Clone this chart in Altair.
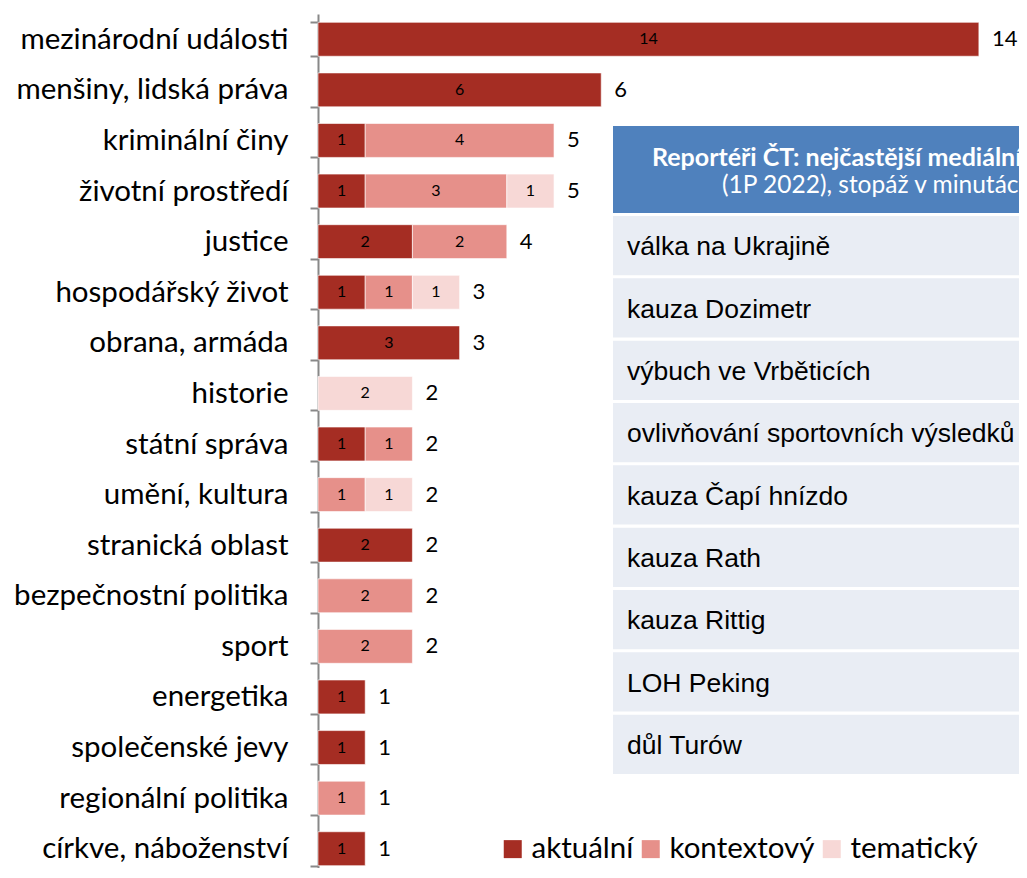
import altair as alt
import pandas as pd

categories = [
    "mezinárodní události", "menšiny, lidská práva", "kriminální činy",
    "životní prostředí", "justice", "hospodářský život", "obrana, armáda",
    "historie", "státní správa", "umění, kultura", "stranická oblast",
    "bezpečnostní politika", "sport", "energetika", "společenské jevy",
    "regionální politika", "církve, náboženství",
]
aktualni   = [14, 6, 1, 1, 2, 1, 3, 0, 1, 0, 2, 0, 0, 1, 1, 0, 1]
kontextovy = [0, 0, 4, 3, 2, 1, 0, 0, 1, 1, 0, 2, 2, 0, 0, 1, 0]
tematicky  = [0, 0, 0, 1, 0, 1, 0, 2, 0, 1, 0, 0, 0, 0, 0, 0, 0]
series = ["aktuální", "kontextový", "tematický"]
colors = ["#A52D23", "#E6908A", "#F7D8D6"]

table_title = "Reportéři ČT: nejčastější mediální kauzy"
table_subtitle = "(1P 2022), stopáž v minutách"
table_rows = [
    "válka na Ukrajině", "kauza Dozimetr", "výbuch ve Vrběticích",
    "ovlivňování sportovních výsledků", "kauza Čapí hnízdo", "kauza Rath",
    "kauza Rittig", "LOH Peking", "důl Turów",
]

rows = []
for i, c in enumerate(categories):
    for k, vals in enumerate([aktualni, kontextovy, tematicky]):
        if vals[i] > 0:
            rows.append({"cat": c, "typ": series[k], "ord": k, "value": vals[i]})
df = pd.DataFrame(rows)
tot = pd.DataFrame({"cat": categories,
                    "total": [a + b + t for a, b, t in zip(aktualni, kontextovy, tematicky)]})
tab = pd.DataFrame({"name": table_rows, "idx": list(range(len(table_rows)))})

FONT = "Lato"
xscale = alt.Scale(domain=[0, 14.85], nice=False, zero=True)
yscale = alt.Scale(domain=categories, range=[0, 860], paddingInner=0.33, paddingOuter=0.165)

base = alt.Chart(df).transform_stack(
    stack="value", groupby=["cat"], as_=["x0", "x1"],
    sort=[alt.SortField("ord", order="ascending")]
).transform_calculate(mid="(datum.x0 + datum.x1) / 2")

bars = base.mark_bar(stroke="white", strokeWidth=1, strokeOpacity=0.6).encode(
    y=alt.Y("cat:N", scale=yscale, sort=categories, title=None,
            axis=alt.Axis(labelFont=FONT, labelFontSize=29.5, labelColor="black",
                          labelPadding=22, tickSize=8, tickColor="#888888",
                          domainColor="#888888", domainWidth=2, tickWidth=2,
                          tickBand="extent", labelLimit=400)),
    x=alt.X("x0:Q", scale=xscale, axis=None),
    x2="x1:Q",
    color=alt.Color("typ:N", scale=alt.Scale(domain=series, range=colors),
                    legend=alt.Legend(title=None, orient="none", legendX=180, legendY=820,
                                      direction="horizontal", symbolType="square",
                                      symbolSize=324, symbolStrokeWidth=0,
                                      labelFont=FONT, labelFontSize=29.5, labelColor="black",
                                      labelOffset=4, columnPadding=2)),
)

seg_labels = base.mark_text(font=FONT, fontSize=16, color="black").encode(
    y=alt.Y("cat:N", scale=yscale, sort=categories),
    x=alt.X("mid:Q", scale=xscale),
    text="value:Q",
)

tot_labels = alt.Chart(tot).mark_text(font=FONT, fontSize=22, color="black",
                                      align="left", dx=13).encode(
    y=alt.Y("cat:N", scale=yscale, sort=categories),
    x=alt.X("total:Q", scale=xscale),
    text="total:Q",
)

header = alt.Chart(pd.DataFrame({"t": [table_title]})).mark_rect(color="#4F81BD").encode(
    x=alt.value(295), x2=alt.value(760), y=alt.value(112), y2=alt.value(199))
header_t1 = alt.Chart(pd.DataFrame({"t": [table_title]})).mark_text(
    font=FONT, fontSize=25, fontWeight="bold", color="white", align="left", baseline="middle"
).encode(x=alt.value(334), y=alt.value(144), text="t:N")
header_t2 = alt.Chart(pd.DataFrame({"t": [table_subtitle]})).mark_text(
    font=FONT, fontSize=24.5, color="white", align="left", baseline="middle"
).encode(x=alt.value(404), y=alt.value(172), text="t:N")

rowscale = alt.Scale(domain=[0, 9], range=[202, 763], nice=False, zero=False)
tab_base = alt.Chart(tab).transform_calculate(
    end="datum.idx + 0.95", mid="datum.idx + 0.5")
tab_rects = tab_base.mark_rect(color="#E9EDF4").encode(
    x=alt.value(295), x2=alt.value(760),
    y=alt.Y("idx:Q", scale=rowscale, axis=None), y2="end:Q")
tab_text = tab_base.mark_text(font="Liberation Sans", fontSize=26.5, color="black",
                              align="left", baseline="middle").encode(
    x=alt.value(309), y=alt.Y("mid:Q", scale=rowscale, axis=None), text="name:N")

table = alt.layer(header, header_t1, header_t2, tab_rects, tab_text)

chart = alt.layer(
    alt.layer(bars, seg_labels, tot_labels),
    table,
).resolve_scale(y="independent").properties(
    width=701, height=854,
    autosize=alt.AutoSizeParams(type="none"),
    padding={"left": 310, "top": 6, "right": 0, "bottom": 0},
).configure_view(stroke=None)

chart.save("out.html", embed_options={"renderer": "svg", "actions": False})
